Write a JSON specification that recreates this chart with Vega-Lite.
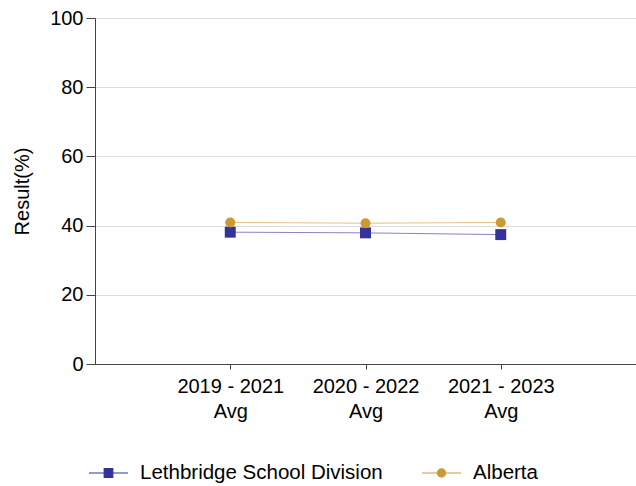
{
  "$schema": "https://vega.github.io/schema/vega-lite/v6.json",
  "width": 541,
  "height": 346,
  "autosize": "none",
  "padding": {"left": 95, "top": 18, "right": 0, "bottom": 122},
  "background": "white",
  "config": {
    "font": "Liberation Sans",
    "view": {"stroke": null},
    "axis": {"labelFont": "Liberation Sans", "titleFont": "Liberation Sans", "labelColor": "black", "titleColor": "black", "labelFontSize": 20, "titleFontSize": 20, "titleFontWeight": "normal", "domainColor": "#444444", "tickColor": "#444444", "gridColor": "#dddddd"}
  },
  "data": {
    "values": [
      {"series": "Lethbridge School Division", "period": "2019 - 2021 Avg", "value": 38.1},
      {"series": "Lethbridge School Division", "period": "2020 - 2022 Avg", "value": 37.9},
      {"series": "Lethbridge School Division", "period": "2021 - 2023 Avg", "value": 37.4},
      {"series": "Alberta", "period": "2019 - 2021 Avg", "value": 40.9},
      {"series": "Alberta", "period": "2020 - 2022 Avg", "value": 40.7},
      {"series": "Alberta", "period": "2021 - 2023 Avg", "value": 40.9}
    ]
  },
  "encoding": {
    "x": {
      "field": "period", "type": "ordinal", "title": null,
      "scale": {"type": "point", "padding": 1},
      "axis": {"labelAngle": 0, "labelExpr": "[replace(datum.label, ' Avg', ''), 'Avg']", "labelLineHeight": 25.5, "tickSize": 5, "labelPadding": 7, "grid": false, "labelBaseline": "top"}
    },
    "y": {
      "field": "value", "type": "quantitative", "title": "Result(%)",
      "scale": {"domain": [0, 100]},
      "axis": {"values": [0, 20, 40, 60, 80, 100], "tickSize": 9, "labelPadding": 3, "titlePadding": 17, "grid": true}
    },
    "color": {
      "field": "series", "type": "nominal",
      "scale": {"domain": ["Lethbridge School Division", "Alberta"], "range": ["#333399", "#cc9933"]},
      "legend": {
        "title": null, "orient": "none", "direction": "horizontal",
        "legendX": -7, "legendY": 434.5,
        "labelFontSize": 20.5, "labelColor": "black", "labelFont": "Liberation Sans",
        "labelOffset": 11, "columnPadding": 36, "labelLimit": 400,
        "symbolSize": 1521, "symbolStrokeWidth": 1.2, "symbolOpacity": 1,
        "encoding": {
          "symbols": {
            "shape": {"condition": {"test": "datum.value === 'Alberta'", "value": "M-1,0H1M0.21,0A0.21,0.21,0,1,1,-0.21,0A0.21,0.21,0,1,1,0.21,0Z"}, "value": "M-1,0H1M-0.22,-0.22H0.22V0.22H-0.22Z"},
            "fill": {"condition": {"test": "datum.value === 'Alberta'", "value": "#cc9933"}, "value": "#333399"},
            "stroke": {"condition": {"test": "datum.value === 'Alberta'", "value": "#cc9933"}, "value": "#333399"},
            "opacity": {"value": 1}
          }
        }
      }
    }
  },
  "layer": [
    {"mark": {"type": "line", "strokeWidth": 1, "opacity": 0.6}},
    {
      "transform": [{"filter": "datum.series === 'Lethbridge School Division'"}],
      "mark": {"type": "point", "filled": true, "opacity": 1, "shape": "square", "size": 120}
    },
    {
      "transform": [{"filter": "datum.series === 'Alberta'"}],
      "mark": {"type": "point", "filled": true, "opacity": 1, "shape": "circle", "size": 100}
    }
  ]
}
